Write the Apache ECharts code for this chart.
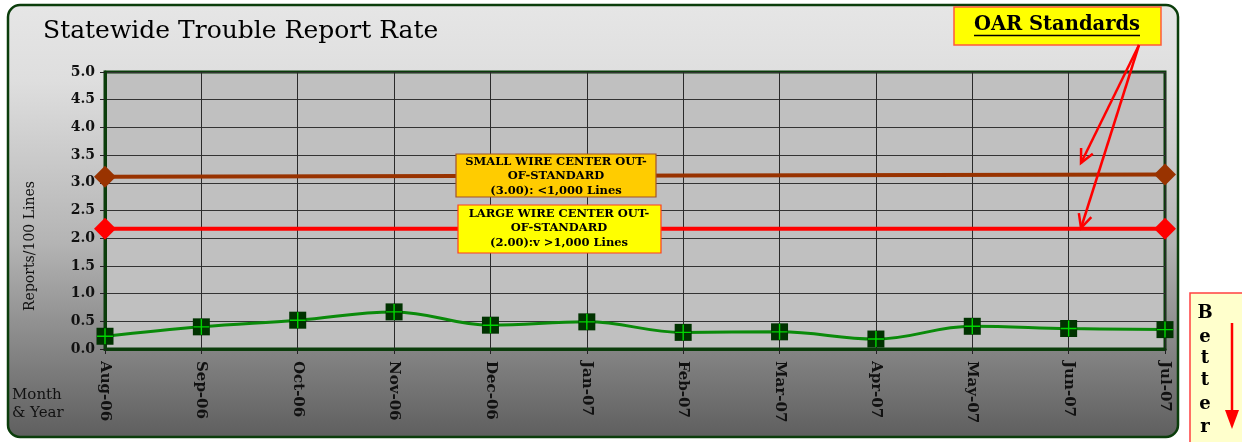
<!DOCTYPE html>
<html><head><meta charset="utf-8">
<script src="https://cdn.jsdelivr.net/npm/echarts@6/dist/echarts.min.js"></script>
<style>html,body{margin:0;padding:0;background:#fff;}#c{width:1242px;height:442px;}</style>
</head><body><div id="c"></div>
<script>
const months = ['Aug-06','Sep-06','Oct-06','Nov-06','Dec-06','Jan-07','Feb-07','Mar-07','Apr-07','May-07','Jun-07','Jul-07'];
const troubleRate = [0.23,0.40,0.52,0.67,0.43,0.49,0.30,0.31,0.18,0.41,0.37,0.35];
const smallWireStd = [3.11,null,null,null,null,null,null,null,null,null,null,3.15];
const largeWireStd = [2.17,null,null,null,null,null,null,null,null,null,null,2.17];
const yMin = 0, yMax = 5, yStep = 0.5;

const SERIF = '"DejaVu Serif", serif';
const chart = echarts.init(document.getElementById('c'), null, {renderer:'canvas'});

function arrowV(x0,y0,x1,y1,len,ang){
  const a = Math.atan2(y1-y0,x1-x0);
  const p1=[x1-len*Math.cos(a-ang), y1-len*Math.sin(a-ang)];
  const p2=[x1-len*Math.cos(a+ang), y1-len*Math.sin(a+ang)];
  return [
    {type:'line', z:200, shape:{x1:x0,y1:y0,x2:x1,y2:y1}, style:{stroke:'#ff0000', lineWidth:2.5}},
    {type:'polyline', z:200, shape:{points:[p1,[x1,y1],p2]}, style:{stroke:'#ff0000', lineWidth:2.5, fill:null}}
  ];
}
function txt(text,x,y,font,fill,align,extra){
  return Object.assign({type:'text', z:150, x:x, y:y, style:{text:text, x:0, y:0, font:font, fill:fill||'#000',
    align:align||'left', verticalAlign:'middle', textAlign:align||'left', textVerticalAlign:'middle'}}, extra||{});
}

const graphics = [
  {type:'rect', z:-100, shape:{x:8,y:5,width:1170,height:432,r:12},
   style:{fill:new echarts.graphic.LinearGradient(0,0,0,1,[
     {offset:0,color:'#e6e6e6'},{offset:0.18,color:'#dedede'},{offset:0.55,color:'#b4b4b4'},{offset:1,color:'#5e5e5e'}]),
     stroke:'#0b3d0b', lineWidth:2.5}},
  txt('Statewide Trouble Report Rate',43,31,'25px '+SERIF,'#000','left'),
  txt('Reports/100 Lines',30,246,'14px '+SERIF,'#111','center',{rotation:Math.PI/2}),
  txt('Month',12,395,'15px '+SERIF,'#111','left'),
  txt('& Year',12,413,'15px '+SERIF,'#111','left'),
  // OAR box
  {type:'rect', z:150, shape:{x:954,y:7,width:207,height:38}, style:{fill:'#ffff00', stroke:'#ff5a3c', lineWidth:1.5}},
  txt('OAR Standards',1057,25,'bold 19.5px '+SERIF,'#000','center'),
  {type:'line', z:151, shape:{x1:974,y1:35.5,x2:1140,y2:35.5}, style:{stroke:'#000', lineWidth:1.5}},
  ...arrowV(1139,45,1081,163,15,0.45),
  ...arrowV(1139,45,1081,228,15,0.45),
  // small wire box
  {type:'rect', z:150, shape:{x:456,y:154,width:200,height:43}, style:{fill:'#ffcc00', stroke:'#a0522d', lineWidth:1.2}},
  txt('SMALL WIRE CENTER OUT-',556,162,'bold 11.5px '+SERIF,'#000','center'),
  txt('OF-STANDARD',556,176,'bold 11.5px '+SERIF,'#000','center'),
  txt('(3.00): <1,000 Lines',556,191,'bold 11.5px '+SERIF,'#000','center'),
  // large wire box
  {type:'rect', z:150, shape:{x:458,y:205,width:203,height:48}, style:{fill:'#ffff00', stroke:'#ff3c1e', lineWidth:1.2}},
  txt('LARGE WIRE CENTER OUT-',559,214,'bold 11.5px '+SERIF,'#000','center'),
  txt('OF-STANDARD',559,228,'bold 11.5px '+SERIF,'#000','center'),
  txt('(2.00):v >1,000 Lines',559,243,'bold 11.5px '+SERIF,'#000','center'),
  // Better box
  {type:'rect', z:150, shape:{x:1190,y:293,width:60,height:160}, style:{fill:'#ffffcc', stroke:'#ff4040', lineWidth:1.5}},
];
['B','e','t','t','e','r'].forEach((ch,i)=>{
  const ys=[313,337,358,380,404,427];
  graphics.push(txt(ch,1205,ys[i],'bold 18px '+SERIF,'#000','center'));
});
graphics.push({type:'line', z:150, shape:{x1:1232,y1:323,x2:1232,y2:412}, style:{stroke:'#ff0000', lineWidth:2.5}});
graphics.push({type:'polygon', z:150, shape:{points:[[1225,410],[1239,410],[1232,429]]}, style:{fill:'#ff0000'}});

const option = {
  animation:false,
  backgroundColor:'#ffffff',
  grid:{left:105, right:77, top:72, bottom:93, show:true, backgroundColor:'#c0c0c0', borderColor:'#0b3d0b', borderWidth:3, containLabel:false},
  xAxis:{type:'category', data:months, boundaryGap:false,
    axisLine:{show:true, lineStyle:{color:'#0b3d0b', width:3}},
    axisTick:{show:true, length:5, alignWithLabel:true, lineStyle:{color:'#222'}},
    axisLabel:{rotate:-90, margin:12, fontFamily:SERIF, fontWeight:'bold', fontSize:15, color:'#111'},
    splitLine:{show:true, lineStyle:{color:'#2a2a2a', width:1}}},
  yAxis:{type:'value', min:yMin, max:yMax, interval:yStep,
    axisLine:{show:true, lineStyle:{color:'#0b3d0b', width:3}},
    axisTick:{show:true, length:5, lineStyle:{color:'#222'}},
    axisLabel:{margin:10, fontFamily:SERIF, fontWeight:'bold', fontSize:14, color:'#111', formatter:v=>v.toFixed(1)},
    splitLine:{show:true, lineStyle:{color:'#333', width:1}}},
  graphic:graphics,
  series:[
    {type:'line', data:smallWireStd, connectNulls:true, symbol:'diamond', symbolSize:22,
     lineStyle:{color:'#993300', width:4}, itemStyle:{color:'#993300'}, z:5},
    {type:'line', data:largeWireStd, connectNulls:true, symbol:'diamond', symbolSize:22,
     lineStyle:{color:'#ff0000', width:4}, itemStyle:{color:'#ff0000'}, z:5},
    {type:'line', data:troubleRate, smooth:0.4, symbol:'rect', symbolSize:17,
     lineStyle:{color:'#0a8a0a', width:3}, itemStyle:{color:'#003300'}, z:6},
    {type:'scatter', data:troubleRate, symbol:'path://M0,7.3H16V8.7H0Z M7.3,0H8.7V16H7.3Z', symbolSize:16,
     itemStyle:{color:'#00ff00'}, z:7}
  ]
};
chart.setOption(option);
</script></body></html>
